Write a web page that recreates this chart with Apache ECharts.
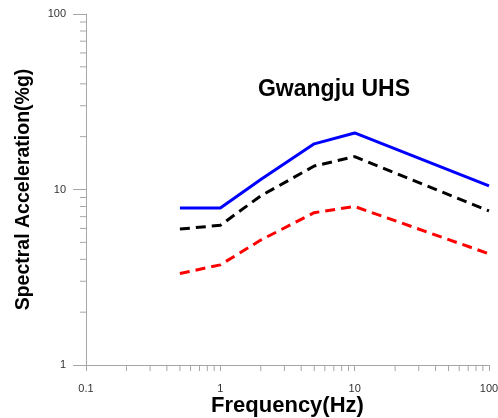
<!DOCTYPE html>
<html>
<head>
<meta charset="utf-8">
<script src="https://cdn.jsdelivr.net/npm/echarts@6/dist/echarts.min.js"></script>
<style>
  html, body { margin: 0; padding: 0; background: #fff; }
  #chart { width: 498px; height: 418px; }
</style>
</head>
<body>
<div id="chart"></div>
<script>
// Frequencies (Hz) and spectral accelerations (%g)
const freqs = [0.5, 1, 2, 5, 10, 100];
const upper = [7.85, 7.85, 11.4, 18.2, 21.0, 10.5];   // blue solid
const median = [5.95, 6.25, 9.2, 13.6, 15.4, 7.55];   // black dashed
const lower = [3.32, 3.72, 5.15, 7.38, 8.0, 4.3];     // red dashed

const xTickLabels = ['0.1', '1', '10', '100'];
const yTickLabels = ['1', '10', '100'];

// Minor tick positions for the logarithmic axes
function minorTicks(lo, hi) {
  const out = [];
  for (let d = lo; d < hi; d *= 10) {
    for (let k = 2; k <= 9; k++) out.push(+(d * k).toPrecision(3));
  }
  return out;
}
const xMinor = minorTicks(0.1, 100);
const yMinor = minorTicks(1, 100);

const axisColor = '#a6a6a6';
const font = 'Arial, "Liberation Sans", sans-serif';

function pairs(ys) { return freqs.map((f, i) => [f, ys[i]]); }

const chart = echarts.init(document.getElementById('chart'), null, { renderer: 'canvas' });
chart.setOption({
  animation: false,
  backgroundColor: '#ffffff',
  title: {
    text: 'Gwangju UHS',
    left: 329, top: 73, textAlign: 'center',
    textStyle: { fontFamily: font, fontWeight: 'bold', fontSize: 23, color: '#000' }
  },
  grid: { left: 86, right: 9, top: 14, bottom: 53, outerBoundsMode: 'none', containLabel: false },
  xAxis: {
    type: 'log', logBase: 10, min: 0.1, max: 100,
    name: 'Frequency(Hz)', nameLocation: 'middle', nameGap: 30, nameMoveOverlap: false,
    nameTextStyle: { fontFamily: font, fontWeight: 'bold', fontSize: 22, color: '#000' },
    axisLine: { lineStyle: { color: axisColor, width: 1 } },
    axisTick: { length: 6, lineStyle: { color: axisColor } },
    axisLabel: {
      margin: 18, fontFamily: font, fontSize: 11, color: '#333',
      formatter: v => xTickLabels.find(t => Math.abs(+t - v) < 1e-9 * Math.max(1, v)) || ''
    },
    splitLine: { show: false }
  },
  yAxis: {
    type: 'log', logBase: 10, min: 1, max: 100,
    name: 'Spectral Acceleration(%g)', nameLocation: 'middle', nameGap: 52, nameMoveOverlap: false,
    nameTextStyle: { fontFamily: font, fontWeight: 'bold', fontSize: 19.5, color: '#000' },
    axisLine: { show: true, lineStyle: { color: axisColor, width: 1 } },
    axisTick: { show: true, length: 13, lineStyle: { color: axisColor } },
    axisLabel: {
      margin: 20, fontFamily: font, fontSize: 11, color: '#333',
      formatter: v => yTickLabels.find(t => Math.abs(+t - v) < 1e-9 * v) || ''
    },
    splitLine: { show: false }
  },
  series: [
    {
      type: 'custom', silent: true, clip: false, z: 1,
      data: xMinor.map(v => [v, 1]),
      renderItem: (params, api) => {
        const p = api.coord([api.value(0), api.value(1)]);
        return { type: 'line', shape: { x1: p[0], y1: p[1], x2: p[0], y2: p[1] + 6 },
                 style: { stroke: axisColor, lineWidth: 1 } };
      }
    },
    {
      type: 'custom', silent: true, clip: false, z: 1,
      data: yMinor.map(v => [0.1, v]),
      renderItem: (params, api) => {
        const p = api.coord([api.value(0), api.value(1)]);
        return { type: 'line', shape: { x1: p[0] - 6, y1: p[1], x2: p[0], y2: p[1] },
                 style: { stroke: axisColor, lineWidth: 1 } };
      }
    },
    {
      type: 'line', data: pairs(upper), showSymbol: false, z: 3,
      lineStyle: { color: '#0000ff', width: 3, type: 'solid' }
    },
    {
      type: 'line', data: pairs(median), showSymbol: false, z: 3,
      lineStyle: { color: '#000000', width: 3, type: [10, 6] }
    },
    {
      type: 'line', data: pairs(lower), showSymbol: false, z: 3,
      lineStyle: { color: '#ff0000', width: 3, type: [10, 6] }
    }
  ]
});
</script>
</body>
</html>
